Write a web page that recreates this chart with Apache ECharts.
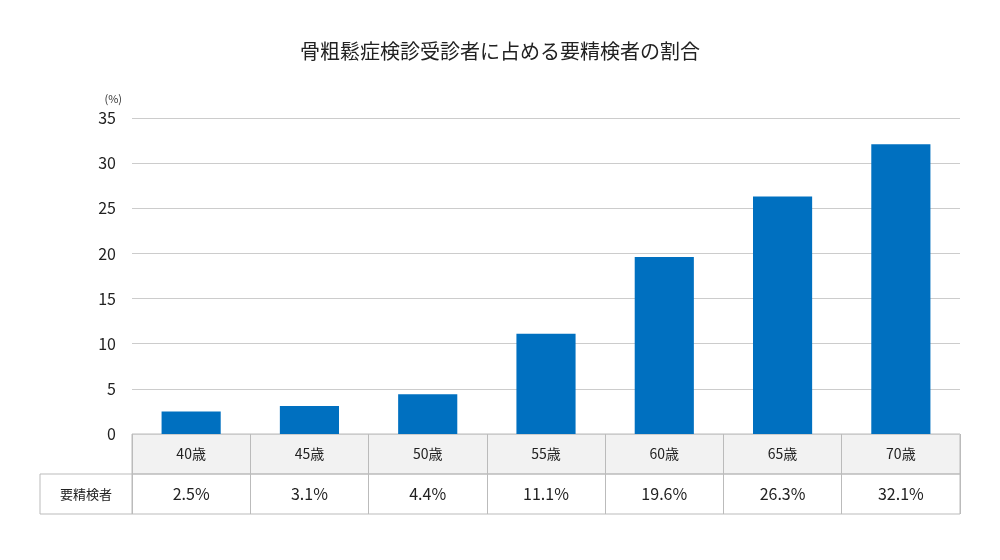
<!DOCTYPE html>
<html><head><meta charset="utf-8">
<script src="https://cdn.jsdelivr.net/npm/echarts@6/dist/echarts.min.js"></script>
<style>html,body{margin:0;background:#fff}#c{width:1000px;height:560px}</style>
</head><body><div id="c"></div>
<script>
const categories = ["40歳","45歳","50歳","55歳","60歳","65歳","70歳"];
const values = [2.5,3.1,4.4,11.1,19.6,26.3,32.1];
const rowLabel = "要精検者";
const title = "骨粗鬆症検診受診者に占める要精検者の割合";
const F = '"Noto Sans CJK JP","Noto Sans",sans-serif';
const chart = echarts.init(document.getElementById('c'));
const ones = categories.map(()=>1);
chart.setOption({
  animation:false,
  title:{text:title,left:'center',top:36,textStyle:{fontFamily:F,fontSize:20,fontWeight:'normal',color:'#222'}},
  grid:[
    {left:132,right:40,top:118,height:316},
    {left:132,right:40,top:434,height:40,show:true,backgroundColor:'#f2f2f2',borderColor:'#bbb'},
    {left:132,right:40,top:474,height:40,show:true,borderColor:'#bbb'}
  ],
  xAxis:[
    {gridIndex:0,type:'category',data:categories,axisLine:{show:false},axisTick:{show:false},axisLabel:{show:false}},
    {gridIndex:1,type:'category',data:categories,axisLine:{show:false},axisTick:{show:false},axisLabel:{show:false},splitLine:{show:true,lineStyle:{color:'#bbb'}}},
    {gridIndex:2,type:'category',data:categories,axisLine:{show:false},axisTick:{show:false},axisLabel:{show:false},splitLine:{show:true,lineStyle:{color:'#bbb'}}}
  ],
  yAxis:[
    {gridIndex:0,type:'value',min:0,max:35,interval:5,name:'(%)',nameLocation:'end',nameGap:14,nameTextStyle:{fontFamily:F,fontSize:11,color:'#333',align:'right',padding:[0,10,0,0]},
     axisLabel:{fontFamily:F,fontSize:16,color:'#222',margin:16},splitLine:{lineStyle:{color:'#ccc'}},axisLine:{show:false},axisTick:{show:false}},
    {gridIndex:1,type:'value',min:0,max:1,show:false},
    {gridIndex:2,type:'value',min:0,max:1,show:false}
  ],
  graphic:[
    {type:'rect',shape:{x:40,y:474,width:92,height:40},style:{fill:'#fff',stroke:'#bbb',lineWidth:1}},
    {type:'text',x:86,y:494,style:{text:rowLabel,fontFamily:F,fontSize:13,fill:'#222',align:'center',verticalAlign:'middle'}}
  ],
  series:[
    {type:'bar',xAxisIndex:0,yAxisIndex:0,data:values,barWidth:'50%',itemStyle:{color:'#0070c0'}},
    {type:'bar',xAxisIndex:1,yAxisIndex:1,data:ones,barWidth:'100%',itemStyle:{color:'transparent'},silent:true,
     label:{show:true,position:'inside',formatter:p=>categories[p.dataIndex],fontFamily:F,fontSize:14,color:'#222'}},
    {type:'bar',xAxisIndex:2,yAxisIndex:2,data:ones,barWidth:'100%',itemStyle:{color:'transparent'},silent:true,
     label:{show:true,position:'inside',formatter:p=>values[p.dataIndex].toFixed(1)+'%',fontFamily:F,fontSize:16,color:'#222'}}
  ]
});
</script></body></html>
